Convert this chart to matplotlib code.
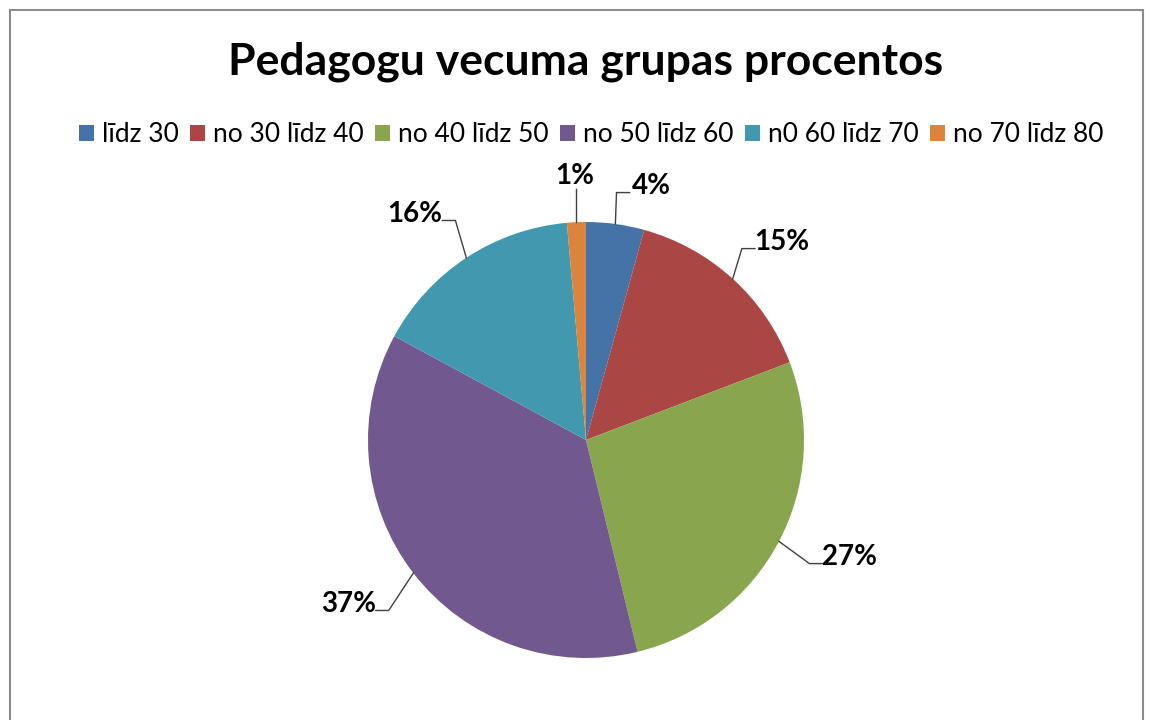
import numpy as np
import matplotlib.pyplot as plt
from matplotlib.patches import Patch, Rectangle

plt.rcParams['font.family'] = ['Lato', 'DejaVu Sans']

title = 'Pedagogu vecuma grupas procentos'
categories = ['līdz 30', 'no 30 līdz 40', 'no 40 līdz 50', 'no 50 līdz 60',
              'n0 60 līdz 70', 'no 70 līdz 80']
shares = [4.3, 14.9, 27.0, 36.7, 15.7, 1.4]
labels = ['4%', '15%', '27%', '37%', '16%', '1%']
colors = ['#4572A7', '#AA4643', '#89A54E', '#71588F', '#4198AF', '#DB843D']

# label text centres (pie radius units) and which side the text sits on
label_pos = [(0.30, 1.165), (0.90, 0.908), (1.21, -0.537),
             (-1.09, -0.752), (-0.784, 1.037), (-0.05, 1.21)]
label_side = ['r', 'r', 'r', 'l', 'l', 'up']

fig = plt.figure(figsize=(11.5, 7.2), dpi=100)
ax = fig.add_axes([0, 0, 1, 1])

wedges, _ = ax.pie(shares, colors=colors, startangle=90, counterclock=False,
                   radius=1.0, wedgeprops=dict(linewidth=0))
ax.set_xlim(-586 / 218, (1150 - 586) / 218)
ax.set_ylim((440 - 720) / 218, 440 / 218)
ax.set_aspect('equal')
ax.axis('off')

for w, lab, (tx, ty), side in zip(wedges, labels, label_pos, label_side):
    mid = np.deg2rad((w.theta1 + w.theta2) / 2)
    ex, ey = np.cos(mid), np.sin(mid)
    if side == 'up':
        ax.plot([ex, ex], [ey, ty - 0.06], color='#404040', lw=1)
    else:
        half = 0.025 * len(lab) + 0.02
        sgn = 1 if side == 'r' else -1
        hx = tx - sgn * (half + 0.03)
        ky = ty - 0.03
        ax.plot([ex, hx - sgn * 0.06, hx], [ey, ky, ky], color='#404040', lw=1)
    ax.text(tx, ty, lab, ha='center', va='center', fontsize=20,
            fontweight='bold', color='black')

fig.text(0.509, 0.914, title, ha='center', va='center', fontsize=32,
         fontweight='bold', color='black')

handles = [Patch(facecolor=c, edgecolor='none') for c in colors]
fig.legend(handles, categories, loc='center', bbox_to_anchor=(0.514, 0.8125),
           ncol=6, frameon=False, fontsize=19, handlelength=0.55,
           handleheight=0.55, handletextpad=0.3, columnspacing=0.45)

fig.patches.append(Rectangle((10 / 1150, -0.1), 1133 / 1150, 1.1 - 10 / 720,
                             transform=fig.transFigure, fill=False,
                             edgecolor='#8c8c8c', linewidth=1.5))

fig.savefig('out.png', dpi=100)
